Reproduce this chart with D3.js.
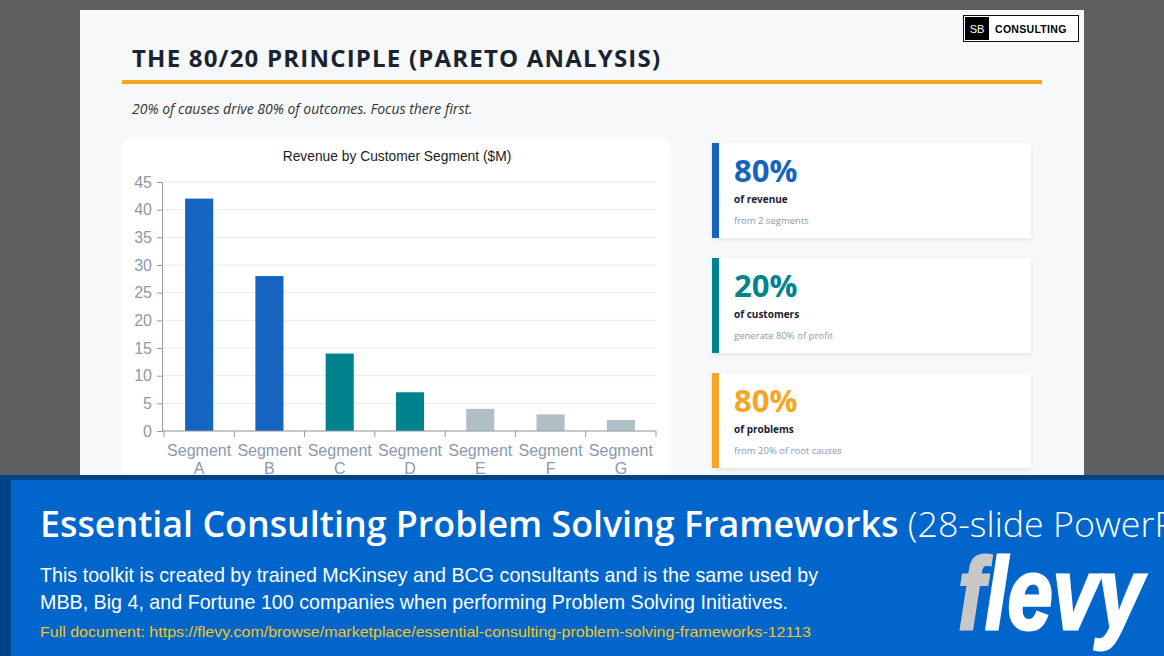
<!DOCTYPE html>
<html><head><meta charset="utf-8">
<script src="https://cdn.jsdelivr.net/npm/d3@7"></script>
<style>html,body{margin:0;padding:0;background:#5f5f5f;overflow:hidden}</style>
</head><body>
<svg id="c" width="1164" height="656"></svg>
<script>
const categories = ["Segment A","Segment B","Segment C","Segment D","Segment E","Segment F","Segment G"];
const revenue = [42, 28, 14, 7, 4, 3, 2];
const barGroup = ["top","top","mid","mid","tail","tail","tail"];
const yTicks = [0,5,10,15,20,25,30,35,40,45];
const statValues = ["80%","20%","80%"];
const statLabels = ["of revenue","of customers","of problems"];
const statNotes = ["from 2 segments","generate 80% of profit","from 20% of root causes"];
const statColors = ["#1565c0","#00838f","#f5a623"];
const groupColors = {top:"#1565c0", mid:"#00838f", tail:"#b0bec5"};

const svg = d3.select("#c");
svg.append("rect").attr("width",1164).attr("height",656).attr("fill","#5f5f5f");
// slide
svg.append("rect").attr("x",80).attr("y",10).attr("width",1004).attr("height",470).attr("fill","#f6f8fa");
// logo
const lg = svg.append("g");
lg.append("rect").attr("x",963.5).attr("y",15.5).attr("width",115).attr("height",26).attr("fill","#fff").attr("stroke","#111").attr("stroke-width",1);
lg.append("rect").attr("x",965).attr("y",17).attr("width",24).attr("height",23).attr("fill","#000");
lg.append("text").attr("x",977).attr("y",33).attr("text-anchor","middle").attr("fill","#fff").attr("font-family","Liberation Sans, Arial").attr("font-size",11).text("SB");
lg.append("text").attr("x",995).attr("y",33).attr("fill","#000").attr("font-family","Liberation Sans, Arial").attr("font-weight","bold").attr("font-size",10.5).attr("letter-spacing",0.3).text("CONSULTING");
// title
svg.append("text").attr("x",132).attr("y",67).attr("fill","#1a2332").attr("font-family","Open Sans").attr("font-weight",700).attr("font-size",24).attr("letter-spacing",1.2).text("THE 80/20 PRINCIPLE (PARETO ANALYSIS)");
svg.append("rect").attr("x",122).attr("y",80).attr("width",920).attr("height",4).attr("fill","#f5a623");
svg.append("text").attr("x",132).attr("y",114).attr("fill","#333").attr("font-family","Open Sans").attr("font-style","italic").attr("font-size",14).text("20% of causes drive 80% of outcomes. Focus there first.");

// chart card
svg.append("rect").attr("x",122).attr("y",137).attr("width",549).attr("height",360).attr("rx",12).attr("fill","#fff");
svg.append("text").attr("x",397).attr("y",161).attr("text-anchor","middle").attr("fill","#222").attr("font-family","Liberation Sans, Arial").attr("font-size",13.8).text("Revenue by Customer Segment ($M)");

const x = d3.scaleBand().domain(categories).range([164,656]).paddingInner(0.6).paddingOuter(0.3);
const y = d3.scaleLinear().domain([0,45]).range([431,182]);
const plot = svg.append("g");
// grid
plot.selectAll("line.g").data(yTicks).join("line").attr("x1",162).attr("x2",656)
  .attr("y1",d=>y(d)).attr("y2",d=>y(d)).attr("stroke","#e6ebf0").attr("stroke-width",1);
plot.selectAll("rect.bar").data(revenue).join("rect").attr("class","bar")
  .attr("x",(d,i)=>x(categories[i])).attr("width",x.bandwidth())
  .attr("y",d=>y(d)).attr("height",d=>y(0)-y(d)).attr("fill",(d,i)=>groupColors[barGroup[i]]);
const ya = svg.append("g").attr("transform","translate(162,0)").call(d3.axisLeft(y).tickValues(yTicks).tickSize(5).tickPadding(5));
ya.select(".domain").attr("stroke","#999");
ya.selectAll(".tick line").attr("stroke","#999");
ya.selectAll("text").attr("fill","#8a9aab").attr("font-family","Liberation Sans, Arial").attr("font-size",16);
// x axis with boundary ticks
const xa = svg.append("g").attr("transform","translate(0,431)");
xa.append("line").attr("x1",162).attr("x2",656).attr("stroke","#999");
const bounds = d3.range(categories.length+1).map(i=>164+i*x.step());
xa.selectAll("line.t").data(bounds).join("line").attr("x1",d=>d).attr("x2",d=>d).attr("y1",0).attr("y2",6).attr("stroke","#999");
const xl = xa.selectAll("text.l").data(categories).join("text").attr("text-anchor","middle")
  .attr("x",d=>x(d)+x.bandwidth()/2).attr("y",25).attr("fill","#8a9aab").attr("font-family","Liberation Sans, Arial").attr("font-size",16);
xl.each(function(d){const p=d.split(" ");const t=d3.select(this);
  t.append("tspan").attr("x",t.attr("x")).attr("dy",0).text(p[0]);
  t.append("tspan").attr("x",t.attr("x")).attr("dy",18).text(p[1]);});

// stat cards
const cardY = [143,258,373];
const defs = svg.append("defs");
const f = defs.append("filter").attr("id","sh").attr("x","-10%").attr("y","-10%").attr("width","120%").attr("height","130%");
f.append("feDropShadow").attr("dx",0).attr("dy",2).attr("stdDeviation",2).attr("flood-color","#000").attr("flood-opacity",0.08);
statValues.forEach((v,i)=>{
  const g = svg.append("g").attr("transform",`translate(712,${cardY[i]})`);
  g.append("rect").attr("width",319).attr("height",95).attr("fill","#fff").attr("filter","url(#sh)");
  g.append("rect").attr("width",7).attr("height",95).attr("fill",statColors[i]);
  g.append("text").attr("x",22).attr("y",39).attr("fill",statColors[i]).attr("font-family","Open Sans").attr("font-weight",700).attr("font-size",31).text(v);
  g.append("text").attr("x",22).attr("y",60).attr("fill","#1a2332").attr("font-family","Open Sans").attr("font-weight",700).attr("font-size",10).text(statLabels[i]);
  g.append("text").attr("x",22).attr("y",81).attr("fill","#8a9aab").attr("font-family","Open Sans").attr("font-size",9.5).text(statNotes[i]);
});

// banner
svg.append("rect").attr("x",0).attr("y",475).attr("width",1164).attr("height",181).attr("fill","#004488");
svg.append("rect").attr("x",11).attr("y",480).attr("width",1153).attr("height",176).attr("fill","#0066cc");
const bt = svg.append("text").attr("x",40).attr("y",537).attr("fill","#fff").attr("font-family","Open Sans").attr("font-size",35.8);
bt.append("tspan").attr("font-weight",600).text("Essential Consulting Problem Solving Frameworks");
bt.append("tspan").attr("font-weight",300).text(" (28-slide PowerPoint)");
svg.append("text").attr("x",40).attr("y",582).attr("fill","#fff").attr("font-family","Liberation Sans, Arial").attr("font-size",21).attr("textLength",778).attr("lengthAdjust","spacingAndGlyphs").text("This toolkit is created by trained McKinsey and BCG consultants and is the same used by");
svg.append("text").attr("x",40).attr("y",609).attr("fill","#fff").attr("font-family","Liberation Sans, Arial").attr("font-size",21).attr("textLength",748).attr("lengthAdjust","spacingAndGlyphs").text("MBB, Big 4, and Fortune 100 companies when performing Problem Solving Initiatives.");
svg.append("text").attr("x",40).attr("y",637).attr("fill","#f5c518").attr("font-family","Liberation Sans, Arial").attr("font-size",15).attr("textLength",771).attr("lengthAdjust","spacingAndGlyphs").text("Full document: https://flevy.com/browse/marketplace/essential-consulting-problem-solving-frameworks-12113");
const fl = svg.append("text").attr("x",958).attr("y",629).attr("font-family","Liberation Sans, Arial").attr("font-weight",700).attr("font-style","italic").attr("font-size",102).attr("textLength",185).attr("lengthAdjust","spacingAndGlyphs");
fl.append("tspan").attr("fill","#c8c8c8").attr("stroke","#c8c8c8").attr("stroke-width",3).text("f");
fl.append("tspan").attr("fill","#fff").attr("stroke","#fff").attr("stroke-width",3).text("levy");
</script>
</body></html>
